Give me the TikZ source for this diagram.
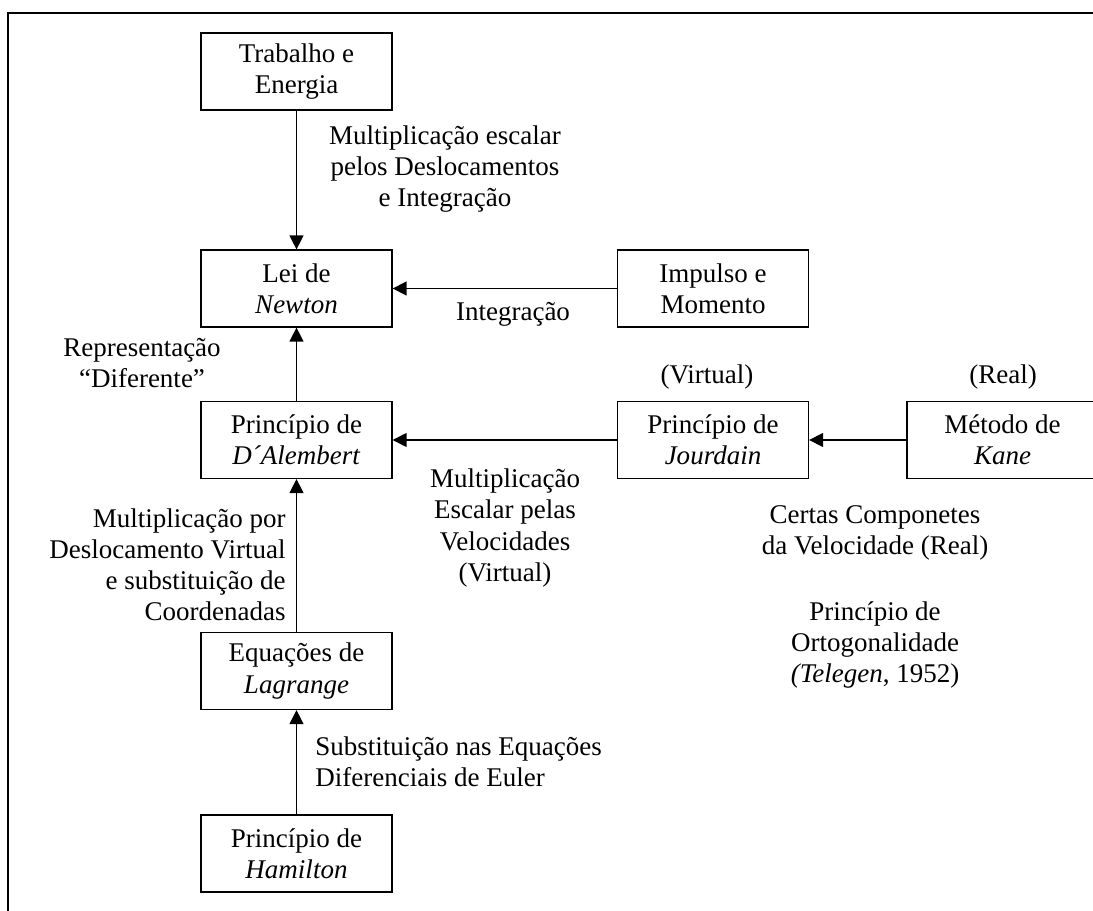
\documentclass[tikz,border=0pt]{standalone}
\usepackage{fontspec}
\setmainfont{Liberation Serif}
\usetikzlibrary{arrows.meta}
\newcommand\myfs{\fontsize{12}{13.8}\selectfont}
\begin{document}
\begin{tikzpicture}[x=0.4444pt,y=-0.4444pt,
  box/.style={draw,line width=0.55pt,minimum width=84.9pt,minimum height=34.2pt,inner sep=0pt,align=center,font=\myfs},
  lbl/.style={inner sep=0pt,align=center,font=\myfs},
  arr/.style={line width=0.55pt,-{Triangle[length=6.2pt,width=6.2pt]}}]
\path[use as bounding box, clip] (0,0) rectangle (1093,911);
\fill[white] (0,0) rectangle (1093,911);
\draw[line width=1pt] (8,13) rectangle (1120,940);

\node[box] (trab) at (296.5,71.5) {Trabalho e\\Energia};
\node[box] (lei) at (296.5,288.5) {Lei de\\\textit{Newton}};
\node[box] (imp) at (713,288.5) {Impulso e\\Momento};
\node[box] (dal) at (296.5,440) {Princípio de\\\textit{D´Alembert}};
\node[box] (jour) at (713,440) {Princípio de\\\textit{Jourdain}};
\node[box] (kane) at (1002.5,440) {Método de\\\textit{Kane}};
\node[box] (lag) at (296.5,671) {Equações de\\\textit{Lagrange}};
\node[box] (ham) at (296.5,853.5) {Princípio de\\\textit{Hamilton}};

\draw[arr] (trab) -- (lei);
\draw[arr] (imp) -- (lei);
\draw[arr] (dal) -- (lei);
\draw[arr] (jour) -- (dal);
\draw[arr] (kane) -- (jour);
\draw[arr] (lag) -- (dal);
\draw[arr] (ham) -- (lag);

\node[lbl] (l1) at (445,169) {Multiplicação escalar\\pelos Deslocamentos\\e Integração};
\node[lbl] (l2) at (513,314) {Integração};
\node[lbl] (l3) at (142,363) {Representação\\“Diferente”};
\node[lbl] (l4) at (707,377) {(Virtual)};
\node[lbl] (l5) at (1003,377) {(Real)};
\node[lbl] (l6) at (505,528) {Multiplicação\\Escalar pelas\\Velocidades\\(Virtual)};
\node[lbl, align=right, anchor=east] (l7) at (286,565) {Multiplicação por\\Deslocamento Virtual\\e substituição de\\Coordenadas};
\node[lbl] (l8) at (875,533) {Certas Componetes\\da Velocidade (Real)};
\node[lbl] (l9) at (875,645) {Princípio de\\Ortogonalidade\\\textit{(Telegen}, 1952)};
\node[lbl, align=left, anchor=west] (l10) at (315,762) {Substituição nas Equações\\Diferenciais de Euler};
\end{tikzpicture}
\end{document}
